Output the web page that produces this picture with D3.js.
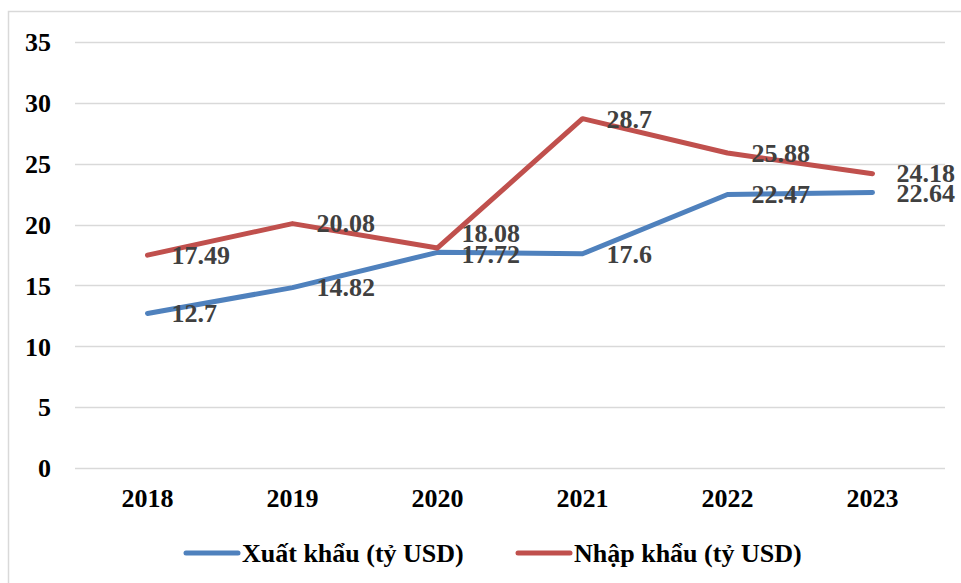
<!DOCTYPE html>
<html>
<head>
<meta charset="utf-8">
<script src="https://cdn.jsdelivr.net/npm/d3@7"></script>
<style>
  body { margin: 0; background: #fff; }
  svg text { font-family: "Times New Roman", "Liberation Serif", "DejaVu Serif", serif; font-weight: bold; }
</style>
</head>
<body>
<div id="chart"></div>
<script>
var years = ["2018", "2019", "2020", "2021", "2022", "2023"];
var exportVals = [12.7, 14.82, 17.72, 17.6, 22.47, 22.64];
var importVals = [17.49, 20.08, 18.08, 28.7, 25.88, 24.18];
var yTicks = [0, 5, 10, 15, 20, 25, 30, 35];
var seriesNames = ["Xuất khẩu (tỷ USD)", "Nhập khẩu (tỷ USD)"];

var W = 961, H = 583;
var svg = d3.select("#chart").append("svg")
    .attr("width", W)
    .attr("height", H)
    .attr("font-family", "Liberation Serif, serif");

// outer chart border
svg.append("rect")
    .attr("x", 8.5)
    .attr("y", 11.5)
    .attr("width", 990)
    .attr("height", 620)
    .style("fill", "none")
    .style("stroke", "#d9d9d9")
    .style("stroke-width", 1.5);

var x = d3.scaleBand().domain(years).range([75, 945]);
var y = d3.scaleLinear().domain([0, 35]).range([468, 42]);

// gridlines
svg.selectAll("line.grid")
    .data(yTicks).enter()
    .append("line")
    .attr("class", "grid")
    .attr("x1", 75)
    .attr("x2", 945)
    .attr("y1", function(d){ return Math.round(y(d)) + 0.5; })
    .attr("y2", function(d){ return Math.round(y(d)) + 0.5; })
    .style("stroke", "#d9d9d9")
    .style("stroke-width", 1.5);

// y axis labels
var yAxis = d3.axisLeft(y).tickValues(yTicks).tickSize(0).tickPadding(0);
var gy = svg.append("g").attr("transform", "translate(51,0)").call(yAxis);
gy.attr("font-family", null);
gy.select(".domain").remove();
gy.selectAll("text")
    .attr("font-size", 26)
    .attr("fill", "#000")
    .attr("dy", "0.34em");

// x axis labels
var xAxis = d3.axisBottom(x).tickSize(0).tickPadding(0);
var gx = svg.append("g").attr("transform", "translate(0,489)").call(xAxis);
gx.attr("font-family", null);
gx.select(".domain").remove();
gx.selectAll("text")
    .attr("font-size", 26)
    .attr("fill", "#000")
    .attr("dy", "0.7em");

var line = d3.line()
    .x(function(d, i){ return x(years[i]) + x.bandwidth() / 2; })
    .y(function(d){ return y(d); });

var series = [
    {name: seriesNames[0], vals: exportVals, color: "#4f81bd", dy: [0, 0, 2, 0, 0, 1]},
    {name: seriesNames[1], vals: importVals, color: "#c0504d", dy: [0, 0, -15, 0, 0, -1]}
];

series.forEach(function(s){
    svg.append("path")
        .attr("d", line(s.vals))
        .style("fill", "none")
        .style("stroke", s.color)
        .style("stroke-width", 5)
        .style("stroke-linecap", "round")
        .style("stroke-linejoin", "round");
});

series.forEach(function(s){
    svg.selectAll(null)
        .data(s.vals).enter()
        .append("text")
        .attr("x", function(d, i){ return x(years[i]) + x.bandwidth() / 2 + 24; })
        .attr("y", function(d, i){ return y(d) + s.dy[i]; })
        .attr("dy", "0.34em")
        .attr("font-size", 26)
        .attr("fill", "#404040")
        .text(function(d){ return d; });
});

// legend
var legendX = [184, 516];
series.forEach(function(s, i){
    var g = svg.append("g").attr("transform", "translate(" + legendX[i] + ",553)");
    g.append("line")
        .attr("x1", 2).attr("x2", 54)
        .style("stroke", s.color)
        .style("stroke-width", 5)
        .style("stroke-linecap", "round");
    g.append("text")
        .attr("x", 58)
        .attr("dy", "0.34em")
        .attr("font-size", 26)
        .attr("fill", "#000")
        .text(s.name);
});
</script>
</body>
</html>
